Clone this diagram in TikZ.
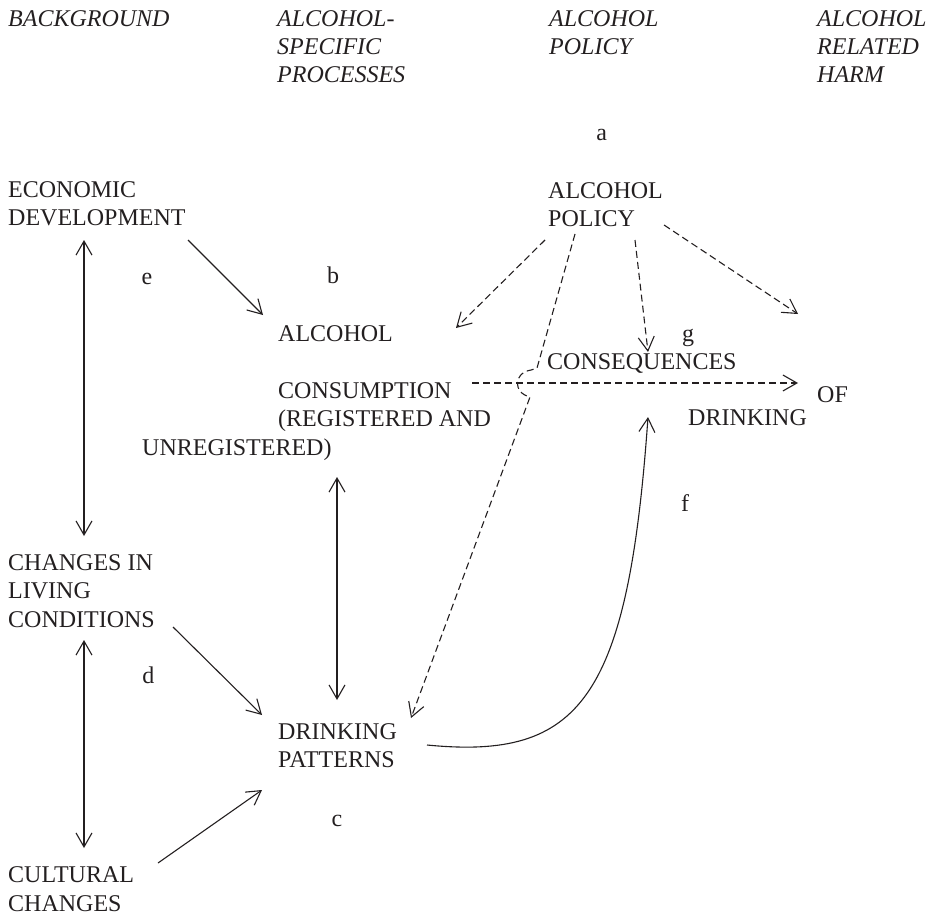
\documentclass[tikz,border=0pt]{standalone}
\usepackage{fontspec}
\setmainfont{Liberation Serif}
\usetikzlibrary{arrows.meta}
\definecolor{ink}{RGB}{35,31,32}
\newcommand\linestack[1]{\vtop{\halign{##\hfil\cr#1\crcr}}}
\tikzset{
  lbl/.style={inner sep=0pt, anchor=base west, text=ink, font=\fontsize{24}{28.5}\selectfont},
  hdr/.style={inner sep=0pt, anchor=base west, text=ink, font=\fontsize{24}{28}\selectfont\itshape},
  tag/.style={inner sep=0pt, anchor=base, text=ink, font=\fontsize{24}{28.5}\selectfont},
  link/.style={draw=ink, line width=1.1pt},
  dlink/.style={link, dash pattern=on 7pt off 4pt},
  >={Straight Barb[length=14pt,width=16pt,line width=1.1pt]}
}
\begin{document}
\begin{tikzpicture}[x=1pt,y=-1pt]
\useasboundingbox (0,0) rectangle (936,915);
% headers
\node[hdr] (hbg)   at (8,27)   {BACKGROUND};
\node[hdr] (hasp)  at (277,27) {\linestack{ALCOHOL-\cr SPECIFIC\cr PROCESSES}};
\node[hdr] (hpol)  at (549,27) {\linestack{ALCOHOL\cr POLICY}};
\node[hdr] (hharm) at (817,27) {\linestack{ALCOHOL\cr RELATED\cr HARM}};
% main nodes
\node[lbl] (econ)   at (8,197)    {\linestack{ECONOMIC\cr DEVELOPMENT}};
\node[lbl] (living) at (8,570)    {\linestack{CHANGES IN\cr LIVING\cr CONDITIONS}};
\node[lbl] (cult)   at (8,882.7)  {\linestack{CULTURAL\cr CHANGES}};
\node[lbl] (cons)   at (278,341)  {\linestack{ALCOHOL\cr\cr CONSUMPTION\cr (REGISTERED AND}};
\node[lbl] (unreg)  at (142,455)  {UNREGISTERED)};
\node[lbl] (pat)    at (278,739)  {\linestack{DRINKING\cr PATTERNS}};
\node[lbl] (pol)    at (548,198.3){\linestack{ALCOHOL\cr POLICY}};
\node[lbl] (conseq) at (547,369.3){CONSEQUENCES};
\node[lbl] (of)     at (817,402)  {OF};
\node[lbl] (drk)    at (688,425)  {DRINKING};
% letters
\node[tag] (ta) at (601.7,140.7) {a};
\node[tag] (tb) at (333,283.5) {b};
\node[tag] (tc) at (337,826) {c};
\node[tag] (td) at (148.3,683.3) {d};
\node[tag] (te) at (147,284) {e};
\node[tag] (tf) at (685,511) {f};
\node[tag] (tg) at (688,341) {g};
% connector end points
\coordinate (ec1) at (188,240);   \coordinate (ec2) at (263,315);
\coordinate (el1) at (84,240);    \coordinate (el2) at (84,536);
\coordinate (lc1) at (84,640);    \coordinate (lc2) at (84,848);
\coordinate (lp1) at (173,627);   \coordinate (lp2) at (262,715);
\coordinate (cp1) at (158,863);   \coordinate (cp2) at (262,790);
\coordinate (cd1) at (337,477);   \coordinate (cd2) at (337,700);
\coordinate (pa1) at (545,240);   \coordinate (pa2) at (456,328);
\coordinate (pd1) at (575,234);   \coordinate (pd2) at (411,718);
\coordinate (pq1) at (635,240);   \coordinate (pq2) at (648,352);
\coordinate (po1) at (664,225);   \coordinate (po2) at (798,314);
\coordinate (co1) at (472,383);   \coordinate (co2) at (798,383);
\coordinate (dq1) at (427,745);   \coordinate (dq2) at (648,417);
% solid connectors
\draw[link,->]  (ec1) -- (ec2);
\draw[link,<->] (el1) -- (el2);
\draw[link,<->] (lc1) -- (lc2);
\draw[link,->]  (lp1) -- (lp2);
\draw[link,->]  (cp1) -- (cp2);
\draw[link,<->] (cd1) -- (cd2);
\draw[link,->]  (dq1) .. controls (580,760) and (628,700) .. (dq2);
% dashed connectors
\draw[dlink,->] (pa1) -- (pa2);
\draw[dlink,->] (pq1) -- (pq2);
\draw[dlink,->] (po1) -- (po2);
\draw[dlink,->] (co1) -- (co2);
\draw[dlink,->] (pd1) -- (537,368) -- (531,370) .. controls (513,373) and (513,393) .. (530,397) -- (pd2);
\end{tikzpicture}
\end{document}
